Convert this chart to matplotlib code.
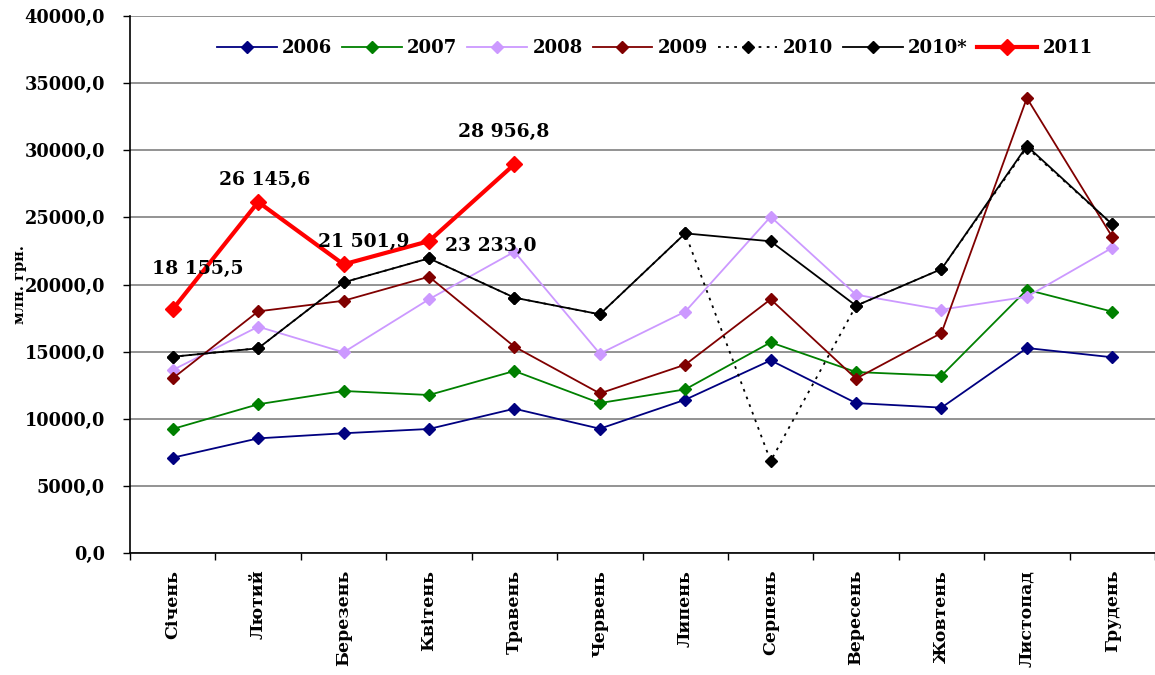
import matplotlib
matplotlib.use("Agg")
import matplotlib.pyplot as plt
from matplotlib.ticker import FixedLocator, FuncFormatter

plt.rcParams['font.family'] = ['DejaVu Serif']
plt.rcParams['font.weight'] = 'bold'

months = ["Січень", "Лютий", "Березень", "Квітень", "Травень", "Червень",
          "Липень", "Серпень", "Вересень", "Жовтень", "Листопад", "Грудень"]

y2006 = [7100, 8540, 8920, 9240, 10750, 9260, 11420, 14350, 11170, 10830, 15270, 14580]
y2007 = [9240, 11080, 12070, 11770, 13560, 11170, 12190, 15690, 13480, 13210, 19610, 17980]
y2008 = [13630, 16860, 14950, 18900, 22440, 14850, 17980, 25050, 19240, 18130, 19090, 22740]
y2009 = [13010, 18000, 18790, 20580, 15370, 11890, 14030, 18900, 12990, 16390, 33890, 23540]
y2010 = [14620, 15250, 20160, 21950, 19020, 17780, 23810, 6850, 18420, 21150, 30200, 24480]
y2010s = [14620, 15250, 20160, 21950, 19020, 17780, 23810, 23220, 18420, 21150, 30320, 24480]
y2011 = [18155.5, 26145.6, 21501.9, 23233.0, 28956.8]
labels2011 = ["18 155,5", "26 145,6", "21 501,9", "23 233,0", "28 956,8"]
label_offsets = [(25, 40), (6, 22), (20, 22), (62, -5), (-11, 32)]

fig = plt.figure(figsize=(11.55, 6.75), dpi=100)
ax = fig.add_axes([0.1126, 0.1807, 0.8874, 0.7956])

x = list(range(12))
lw = 1.3
ms = 6
ax.plot(x, y2006, color='#000080', lw=lw, marker='D', ms=ms, label='2006', zorder=3)
ax.plot(x, y2007, color='#008000', lw=lw, marker='D', ms=ms, label='2007', zorder=3)
ax.plot(x, y2008, color='#CC99FF', lw=lw, marker='D', ms=ms, label='2008', zorder=3)
ax.plot(x, y2009, color='#800000', lw=lw, marker='D', ms=ms, label='2009', zorder=3)
ax.plot(x, y2010, color='black', lw=1.3, ls=(0, (1.5, 3)), marker='D', ms=ms, label='2010', zorder=3)
ax.plot(x, y2010s, color='black', lw=lw, marker='D', ms=ms, label='2010*', zorder=4)
ax.plot(range(len(y2011)), y2011, color='#FF0000', lw=3, marker='D', ms=8, label='2011', zorder=5)

for i, (v, t) in enumerate(zip(y2011, labels2011)):
    dx, dy = label_offsets[i]
    ax.annotate(t, (i, v), xytext=(dx, dy), textcoords='offset pixels',
                ha='center', va='center', fontsize=13.5, fontweight='bold', zorder=6)

ax.set_ylim(0, 40000)
ax.set_xlim(-0.5, 11.5)
ax.yaxis.set_major_locator(FixedLocator(range(0, 40001, 5000)))
ax.yaxis.set_major_formatter(FuncFormatter(lambda v, p: f"{int(v)},0"))
ax.grid(axis='y', color='#808080', lw=1.2, zorder=0)
ax.tick_params(axis='y', labelsize=12.8, length=5, width=1, direction='out', pad=13)

ax.set_xticks([i - 0.5 for i in range(13)])
ax.set_xticklabels([])
ax.set_xticks(x, minor=True)
ax.set_xticklabels(months, minor=True, rotation=90, fontsize=12.5, fontweight='bold')
ax.tick_params(axis='x', which='major', length=5, width=1, direction='out')
ax.tick_params(axis='x', which='minor', length=0, pad=12)
for lab in ax.get_yticklabels():
    lab.set_fontweight('bold')

ax.spines['top'].set_visible(False)
ax.spines['right'].set_visible(False)
ax.spines['left'].set_linewidth(1.2)
ax.spines['bottom'].set_linewidth(1.2)

ax.set_ylabel("млн. грн.", fontsize=10.5, fontweight='bold')
ax.yaxis.set_label_coords(-0.101, 0.5)

leg = ax.legend(loc='center', bbox_to_anchor=(0.512, 0.940), ncol=7, frameon=False,
                handlelength=3.3, handletextpad=0.3, columnspacing=0.55,
                prop={'weight': 'bold', 'size': 13})

fig.savefig("out.png", dpi=100)
